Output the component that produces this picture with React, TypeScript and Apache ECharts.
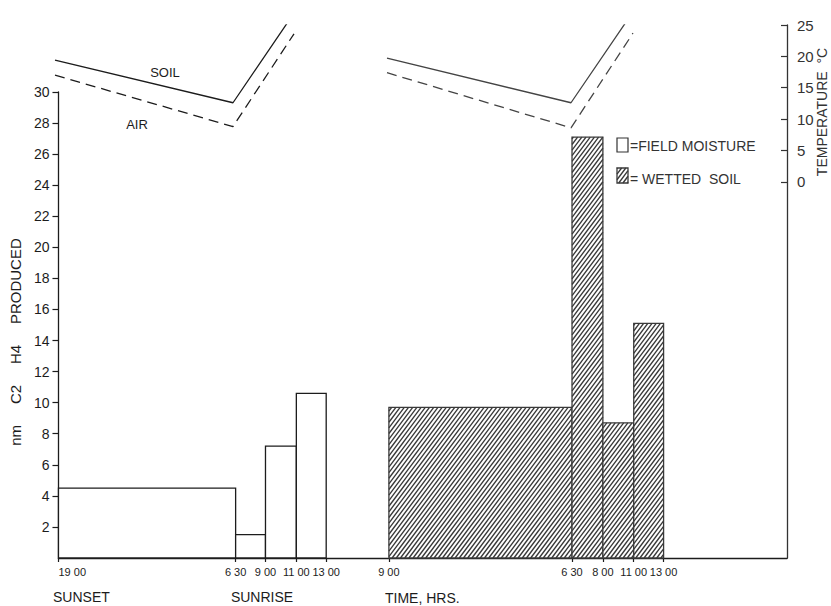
import React, { useEffect, useRef } from 'react';
import * as echarts from 'echarts';

// Schematic time axis: tick positions (axis units) and their labels
const tickPositions = [0, 178, 208, 239, 269, 332, 516, 547, 578, 608];
const tickLabels = ['19 00', '6 30', '9 00', '11 00', '13 00', '9 00', '6 30', '8 00', '11 00', '13 00'];

// C2H4 produced (nm) – bins given as [startTickIndex, endTickIndex]
const fieldBins = [[0, 1], [1, 2], [2, 3], [3, 4]];
const fieldValues = [4.5, 1.5, 7.2, 10.6];
const wettedBins = [[5, 6], [6, 7], [7, 8], [8, 9]];
const wettedValues = [9.7, 27.1, 8.7, 15.1];

// Temperature (°C)
const tempTicks1 = [0, 1, 3];
const soilTemp1 = [19.4, 12.6, 26.9];
const airTemp1 = [17.0, 8.8, 23.6];
const tempTicks2 = [5, 6, 8];
const soilTemp2 = [19.7, 12.6, 27.1];
const airTemp2 = [17.4, 8.6, 23.7];

const leftTicks = [2, 4, 6, 8, 10, 12, 14, 16, 18, 20, 22, 24, 26, 28, 30];
const rightTicks = [0, 5, 10, 15, 20, 25];

const FONT = '"Liberation Sans", Arial, sans-serif';
const INK = '#1c1c1c';

function hatch(x0: number, y0: number, x1: number, y1: number, s = 4.2, m = 0.75) {
  const out: number[][] = [];
  const cMin = x0 + m * y0;
  const cMax = x1 + m * y1;
  for (let c = Math.ceil(cMin / s) * s; c <= cMax; c += s) {
    const yLow = Math.max(y0, (c - x1) / m);
    const yHigh = Math.min(y1, (c - x0) / m);
    if (yHigh > yLow) out.push([c - m * yLow, yLow, c - m * yHigh, yHigh]);
  }
  return out;
}

function hatchChildren(x0: number, y0: number, x1: number, y1: number, stroke: string) {
  const ch: any[] = [
    { type: 'rect', shape: { x: x0, y: y0, width: x1 - x0, height: y1 - y0 }, style: { fill: '#fff' } },
  ];
  hatch(x0, y0, x1, y1).forEach(([ax, ay, bx, by]) =>
    ch.push({ type: 'line', shape: { x1: ax, y1: ay, x2: bx, y2: by }, style: { stroke: '#383838', lineWidth: 1.35 } })
  );
  ch.push({
    type: 'rect',
    shape: { x: x0, y: y0, width: x1 - x0, height: y1 - y0 },
    style: { fill: 'none', stroke, lineWidth: 1.3 },
  });
  return ch;
}

const makeBarRender = (hatched: boolean) => (params: any, api: any) => {
  const a = api.coord([api.value(0), 0]);
  const b = api.coord([api.value(1), api.value(2)]);
  const left = a[0], right = b[0], top = b[1], bottom = a[1];
  if (hatched) return { type: 'group', children: hatchChildren(left, top, right, bottom, '#3a3a3a') };
  return {
    type: 'rect',
    shape: { x: left, y: top, width: right - left, height: bottom - top },
    style: { fill: '#fff', stroke: INK, lineWidth: 1.3 },
  };
};

export default function App() {
  const ref = useRef<HTMLDivElement>(null);
  useEffect(() => {
    if (!ref.current) return;
    const chart = echarts.init(ref.current, null, { renderer: 'svg' });

    const fieldData = fieldBins.map((b, i) => [tickPositions[b[0]], tickPositions[b[1]], fieldValues[i]]);
    const wettedData = wettedBins.map((b, i) => [tickPositions[b[0]], tickPositions[b[1]], wettedValues[i]]);
    const line = (ticks: number[], vals: number[]) => ticks.map((t, i) => [tickPositions[t], vals[i]]);

    const legendHatch = hatchChildren(617, 168, 628, 183, '#3a3a3a');

    const option: any = {
      animation: false,
      backgroundColor: '#fff',
      textStyle: { fontFamily: FONT, color: INK },
      grid: [
        { left: 55, right: 44, top: 92, bottom: 48 },
        { left: 55, right: 44, top: 25, bottom: 48 },
      ],
      xAxis: [
        {
          type: 'value', gridIndex: 0, min: 0, max: 732,
          axisLine: { onZero: false, lineStyle: { color: INK, width: 1.3 } },
          splitLine: { show: false },
          axisTick: { customValues: tickPositions, length: 4, lineStyle: { color: INK, width: 1.2 } },
          axisLabel: {
            customValues: tickPositions,
            formatter: (v: number) => { const i = tickPositions.indexOf(v); return i >= 0 ? tickLabels[i] : ''; },
            fontSize: 11, color: INK, margin: 8, alignMinLabel: 'left', fontFamily: FONT,
          },
        },
        { type: 'value', gridIndex: 1, min: 0, max: 732, show: false },
      ],
      yAxis: [
        {
          type: 'value', gridIndex: 0, min: 0, max: 30, interval: 2,
          name: 'nm     C2     H4     PRODUCED',
          nameLocation: 'middle', nameGap: 30, nameRotate: 90,
          nameTextStyle: { fontSize: 15, color: INK, fontFamily: FONT, padding: [0, 34, 0, 0] },
          axisLine: { show: true, onZero: false, lineStyle: { color: INK, width: 1.3 } },
          splitLine: { show: false },
          axisTick: { customValues: leftTicks, length: 6, lineStyle: { color: INK, width: 1.2 } },
          axisLabel: { customValues: leftTicks, fontSize: 14, color: INK, margin: 9, fontFamily: FONT },
        },
        {
          type: 'value', gridIndex: 1, position: 'right', min: -60, max: 25, interval: 5,
          axisLine: { show: true, onZero: false, lineStyle: { color: '#333', width: 1.3 } },
          splitLine: { show: false },
          axisTick: { inside: true, customValues: rightTicks, length: 6, lineStyle: { color: '#333', width: 1.2 } },
          axisLabel: { customValues: rightTicks, fontSize: 15, color: '#333', margin: 10, fontFamily: FONT },
        },
      ],
      series: [
        { type: 'custom', name: 'FIELD MOISTURE', xAxisIndex: 0, yAxisIndex: 0, renderItem: makeBarRender(false), encode: { x: [0, 1], y: 2 }, data: fieldData },
        { type: 'custom', name: 'WETTED SOIL', xAxisIndex: 0, yAxisIndex: 0, renderItem: makeBarRender(true), encode: { x: [0, 1], y: 2 }, data: wettedData },
        { type: 'line', name: 'SOIL', xAxisIndex: 1, yAxisIndex: 1, symbol: 'none', data: line(tempTicks1, soilTemp1), lineStyle: { color: INK, width: 1.3 } },
        { type: 'line', name: 'AIR', xAxisIndex: 1, yAxisIndex: 1, symbol: 'none', data: line(tempTicks1, airTemp1), lineStyle: { color: INK, width: 1.3, type: [10, 6] } },
        { type: 'line', name: 'SOIL ', xAxisIndex: 1, yAxisIndex: 1, symbol: 'none', data: line(tempTicks2, soilTemp2), lineStyle: { color: '#444', width: 1.3 } },
        { type: 'line', name: 'AIR ', xAxisIndex: 1, yAxisIndex: 1, symbol: 'none', data: line(tempTicks2, airTemp2), lineStyle: { color: '#444', width: 1.3, type: [10, 6] } },
      ],
      graphic: [
        { type: 'text', x: 165, y: 72, style: { text: 'SOIL', font: `13px ${FONT}`, fill: INK, align: 'center', verticalAlign: 'middle' } },
        { type: 'text', x: 137, y: 124, style: { text: 'AIR', font: `13px ${FONT}`, fill: INK, align: 'center', verticalAlign: 'middle' } },
        { type: 'rect', shape: { x: 617, y: 138, width: 11, height: 14 }, style: { fill: '#fff', stroke: '#333', lineWidth: 1.2 } },
        { type: 'text', x: 630, y: 146, style: { text: '=FIELD MOISTURE', font: `14px ${FONT}`, fill: '#333', align: 'left', verticalAlign: 'middle' } },
        { type: 'group', children: legendHatch },
        { type: 'text', x: 630, y: 179, style: { text: '= WETTED  SOIL', font: `14px ${FONT}`, fill: '#333', align: 'left', verticalAlign: 'middle' } },
        { type: 'text', x: 53, y: 597, style: { text: 'SUNSET', font: `14px ${FONT}`, fill: INK, align: 'left', verticalAlign: 'middle' } },
        { type: 'text', x: 262, y: 597, style: { text: 'SUNRISE', font: `14px ${FONT}`, fill: INK, align: 'center', verticalAlign: 'middle' } },
        { type: 'text', x: 385, y: 598, style: { text: 'TIME, HRS.', font: `14px ${FONT}`, fill: INK, align: 'left', verticalAlign: 'middle' } },
        { type: 'text', x: 822, y: 112, rotation: Math.PI / 2, style: { text: 'TEMPERATURE  °C', font: `14px ${FONT}`, fill: '#333', align: 'center', verticalAlign: 'middle' } },
      ],
    };
    chart.setOption(option);
    return () => chart.dispose();
  }, []);
  return <div ref={ref} style={{ position: 'absolute', left: 0, top: 0, width: 831, height: 606 }} />;
}
